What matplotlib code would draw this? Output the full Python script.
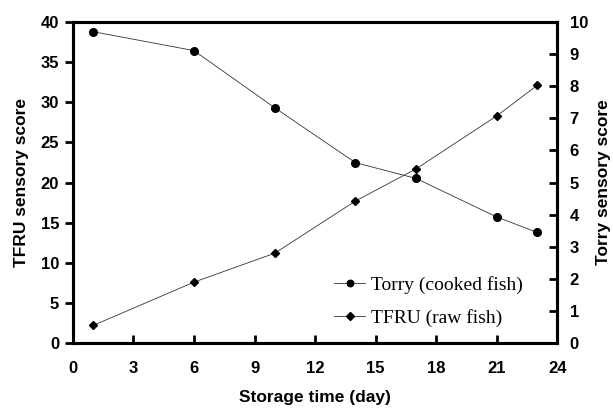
import matplotlib
matplotlib.use("Agg")
import matplotlib.pyplot as plt

# storage days
days = [1, 6, 10, 14, 17, 21, 23]
# Torry (cooked fish), right axis 0-10
torry = [9.70, 9.11, 7.33, 5.62, 5.13, 3.93, 3.45]
# TFRU (raw fish), left axis 0-40
tfru = [2.2, 7.6, 11.2, 17.7, 21.7, 28.3, 32.1]

xticks = [0, 3, 6, 9, 12, 15, 18, 21, 24]
yticks_left = [0, 5, 10, 15, 20, 25, 30, 35, 40]
yticks_right = list(range(0, 11))

plt.rcParams['font.family'] = ['Liberation Sans', 'DejaVu Sans']

fig = plt.figure(figsize=(6.13, 4.08), dpi=100)
ax = fig.add_axes([0.119, 0.159, 0.790, 0.787])
ax2 = ax.twinx()

l2, = ax.plot(days, tfru, color="#333333", lw=0.6, marker="D", ms=4.5,
              mfc="black", mec="black", label="TFRU (raw fish)")
l1, = ax2.plot(days, torry, color="#333333", lw=0.6, marker="o", ms=5.5,
               mfc="black", mec="black", label="Torry (cooked fish)")

ax.set_xlim(0, 24)
ax.set_ylim(0, 40)
ax2.set_ylim(0, 10)
ax.set_xticks(xticks)
ax.set_yticks(yticks_left)
ax2.set_yticks(yticks_right)

for s in ["left", "bottom", "right", "top"]:
    ax.spines[s].set_linewidth(2.2)
    ax2.spines[s].set_linewidth(2.2)

ax.tick_params(axis="x", direction="in", length=6, width=2, pad=13, labelsize=12)
ax.tick_params(axis="y", direction="out", length=6, width=2, pad=4, labelsize=12)
ax2.tick_params(axis="y", direction="in", length=6, width=2, pad=9, labelsize=12)
for lab in ax.get_xticklabels() + ax.get_yticklabels() + ax2.get_yticklabels():
    lab.set_fontweight("bold")

ax.set_xlabel("Storage time (day)", fontsize=12.5, fontweight="bold", labelpad=10)
ax.set_ylabel("TFRU sensory score", fontsize=12.5, fontweight="bold", labelpad=8)
ax2.set_ylabel("Torry sensory score", fontsize=12.5, fontweight="bold", labelpad=6)

leg = ax2.legend([l1, l2], ["Torry (cooked fish)", "TFRU (raw fish)"],
                 loc="lower right", bbox_to_anchor=(0.965, -0.005), frameon=False,
                 prop={"family": "Liberation Serif", "size": 14},
                 handlelength=1.6, handletextpad=0.3, labelspacing=0.8,
                 markerscale=0.85)

fig.savefig("out.png", dpi=100)
